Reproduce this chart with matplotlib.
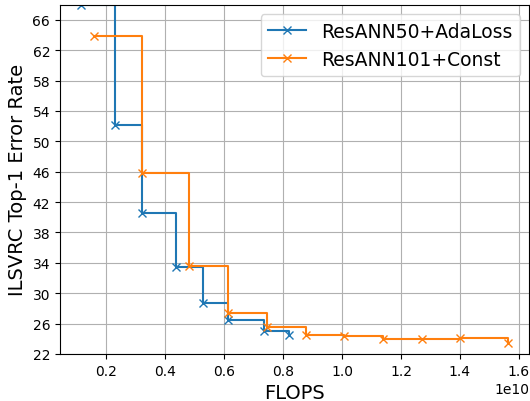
import matplotlib
matplotlib.use("Agg")
import matplotlib.pyplot as plt

# FLOPS (in units of 1e10) and top-1 error rates
ada_flops = [0.115, 0.231, 0.321, 0.438, 0.529, 0.614, 0.736, 0.820]
ada_err = [67.9, 52.1, 40.6, 33.4, 28.7, 26.5, 25.0, 24.5]

const_flops = [0.158, 0.321, 0.481, 0.614, 0.746, 0.878, 1.007, 1.139, 1.270, 1.400, 1.562]
const_err = [63.9, 45.8, 33.6, 27.4, 25.5, 24.5, 24.3, 24.0, 24.0, 24.1, 23.5]

yticks = list(range(22, 67, 4))

fig = plt.figure(figsize=(5.3, 4.02), dpi=100)
ax = fig.add_axes([0.113, 0.117, 0.885, 0.869])

ax.step([x * 1e10 for x in ada_flops], ada_err, where="post",
        marker="x", label="ResANN50+AdaLoss")
ax.step([x * 1e10 for x in const_flops], const_err, where="post",
        marker="x", label="ResANN101+Const")

ax.set_yticks(yticks)
ax.set_ylim(22, 68)
ax.grid(True)
ax.set_xlabel("FLOPS", fontsize=14)
ax.set_ylabel("ILSVRC Top-1 Error Rate", fontsize=14)
ax.legend(loc="upper right", fontsize=13.5)

fig.savefig("out.png", dpi=100)
